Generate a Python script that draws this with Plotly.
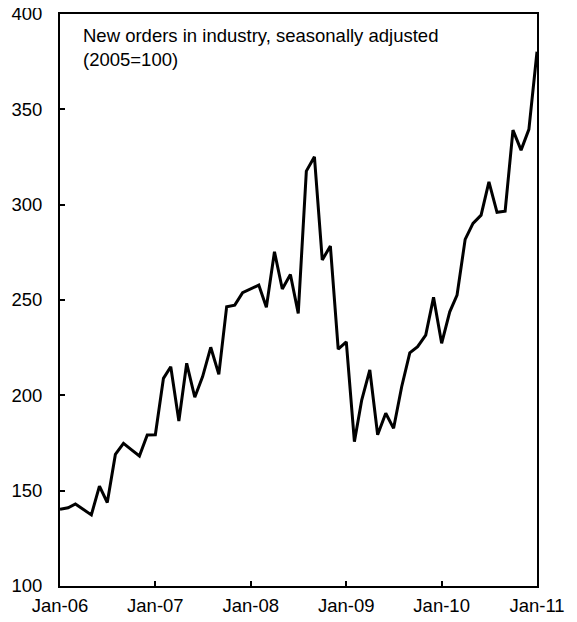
import pandas as pd
import plotly.graph_objects as go

# monthly index, Jan-06 .. Jan-11
months = pd.date_range("2006-01-01", "2011-01-01", freq="MS")
orders = [
    140.2, 141.0, 143.0, 140.0, 137.3, 152.4, 143.8, 169.0, 174.8, 171.5, 168.2, 179.2,
    179.3, 208.9, 215.0, 186.5, 216.8, 199.0, 209.8, 225.2, 211.0, 246.5, 247.3, 253.8,
    255.8, 257.8, 246.2, 275.3, 255.8, 263.4, 243.0, 317.6, 325.1, 271.0, 278.3, 224.2,
    228.0, 175.7, 197.5, 213.3, 179.3, 190.6, 182.7, 204.5, 222.3, 225.5, 231.6, 251.4,
    227.3, 243.8, 252.6, 281.8, 290.2, 294.5, 312.0, 296.0, 296.6, 339.1, 328.6, 339.5,
    380.2,
]
y_ticks = [100, 150, 200, 250, 300, 350, 400]
title_text = "New orders in industry, seasonally adjusted<br>(2005=100)"

fig = go.Figure(go.Scatter(
    x=months, y=orders, mode="lines",
    line=dict(color="black", width=3),
    showlegend=False,
))

fig.add_annotation(
    text=title_text, xref="paper", yref="paper",
    x=0.044, y=0.985, xanchor="left", yanchor="top",
    align="left", showarrow=False,
    font=dict(size=18.5, color="black"),
)

# page body adds ~8px offset, so figure is a bit smaller than the window
fig.update_layout(
    width=569, height=614,
    margin=dict(l=52, r=40, t=6, b=36),
    paper_bgcolor="white", plot_bgcolor="white",
    font=dict(family="Liberation Sans, Arial, sans-serif", size=18.5, color="black"),
)
fig.update_xaxes(
    range=[months[0], months[-1]], automargin=False,
    dtick="M12", tick0="2006-01-01", tickformat="%b-%y",
    ticks="inside", ticklen=5, tickwidth=2, tickcolor="black",
    ticklabelstandoff=2, ticklabeloverflow="allow",
    showline=True, linecolor="black", linewidth=2, mirror=True,
    showgrid=False, zeroline=False,
)
fig.update_yaxes(
    range=[100, 400], tickvals=y_ticks, automargin=False,
    ticks="inside", ticklen=5, tickwidth=2, tickcolor="black",
    ticklabelstandoff=12, ticklabeloverflow="allow",
    showline=True, linecolor="black", linewidth=2, mirror=True,
    showgrid=False, zeroline=False,
)

fig.write_html("out.html")
